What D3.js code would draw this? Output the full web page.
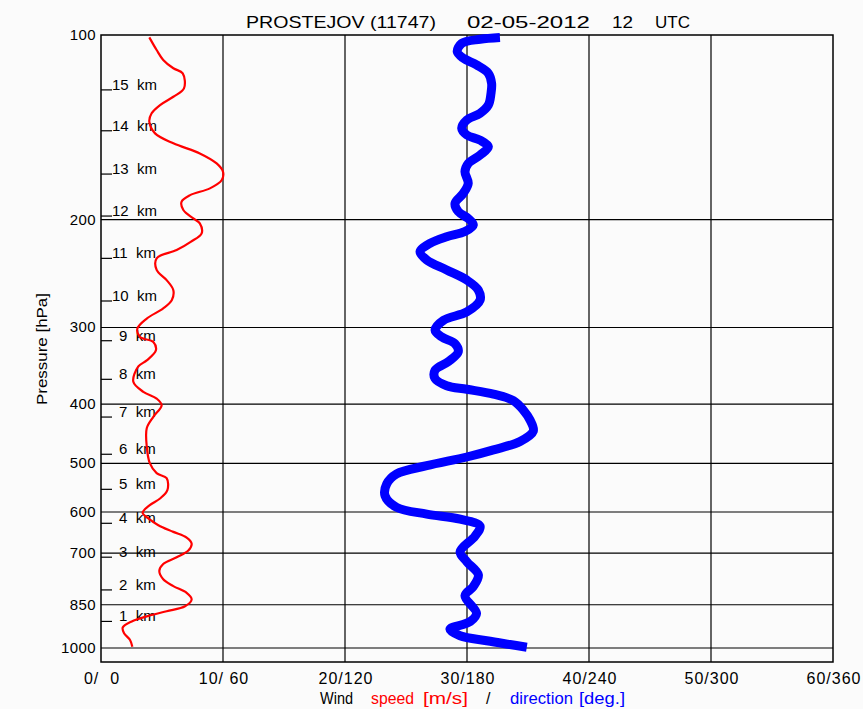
<!DOCTYPE html>
<html>
<head>
<meta charset="utf-8">
<script src="https://cdn.jsdelivr.net/npm/d3@7"></script>
<style>
    body { margin: 0; background: #fbfbfb; }
    svg { display: block; font-family: "Liberation Sans", Arial, sans-serif; }
    text { white-space: pre; }
</style>
</head>
<body>
<div class="container"></div>
<script>
// pressure levels (hPa) and readings for each curve
var speedPressure = [100.9, 105.8, 109.8, 113.3, 115.5, 122.2, 126.1, 130.1, 134.2, 138.5, 144.7, 150.2, 156.0, 162.0, 167.1, 172.4, 177.9, 182.5, 187.1, 193.0, 199.2, 202.9, 210.6, 217.5, 224.3, 231.4, 241.7, 251.1, 260.8, 270.9, 279.3, 290.1, 301.3, 310.9, 316.9, 326.9, 339.5, 347.3, 367.9, 382.0, 391.8, 401.6, 419.6, 438.1, 469, 499.5, 518.6, 528.5, 552.6, 570.3, 584.7, 601.8, 614.6, 630.4, 646.5, 660.6, 675.9, 693.3, 711.2, 729.4, 748.4, 772.5, 792.5, 813, 833.5, 854.7, 871.1, 887.9, 905.1, 925.9, 945.9, 970.5, 995.6];
var speed = [3.96, 4.56, 5.1, 5.93, 6.7, 6.8, 5.93, 4.84, 4.15, 3.96, 4.43, 5.93, 8.1, 9.48, 10.0, 9.9, 8.93, 7.3, 6.6, 6.75, 7.57, 8.1, 8.25, 7.35, 6.2, 4.56, 4.56, 5.38, 5.93, 5.8, 5.1, 3.75, 2.98, 3.2, 4.29, 4.5, 3.75, 3.06, 2.65, 3.47, 4.56, 4.97, 4.29, 3.75, 3.75, 4.0, 4.56, 5.38, 5.44, 4.84, 4.0, 3.41, 3.88, 4.7, 5.93, 7.02, 7.43, 7.16, 6.2, 5.1, 4.78, 5.1, 5.93, 7.02, 7.43, 6.89, 5.38, 3.75, 2.52, 1.78, 1.89, 2.38, 2.57];

var dirPressure = [100.9, 101.6, 103.2, 106.5, 109.1, 111.9, 115.5, 119.9, 124.5, 130.1, 134.2, 137.6, 142, 145.6, 148.4, 152.1, 157, 162, 167.1, 174.6, 181.2, 188.2, 194.1, 199.2, 204.1, 209.2, 213.3, 218.7, 225.6, 232.8, 241.7, 251.1, 260.8, 270.9, 283.0, 292, 302.9, 310.9, 318.9, 328.8, 340.8, 352.1, 363.6, 373.3, 378.4, 385.4, 394.8, 409.1, 424.7, 442.8, 460.4, 475.1, 488, 504.2, 520.1, 540.3, 564.4, 589.6, 604.7, 616.5, 632.5, 657.1, 697, 723, 760, 794, 822, 878, 906, 932, 955, 973, 987, 997];
var direction = [196.2, 186.4, 177.4, 175.2, 178.2, 184.7, 190.5, 192.1, 191.8, 190.5, 186.4, 179.9, 177.4, 179.9, 186.4, 190.5, 186.4, 180.6, 179, 180.6, 178.2, 174.1, 175.7, 180.6, 183.1, 179, 170, 161.8, 156.9, 160.2, 170, 179.9, 185.6, 186.4, 179.9, 168.5, 164.3, 167.6, 174.1, 175.7, 170.9, 164.3, 164.3, 170, 179.9, 193, 202.8, 207.7, 211, 212.6, 206.1, 193, 179.9, 160.2, 145.4, 140.5, 139.7, 145.4, 160.2, 176.6, 186.4, 183.9, 176.6, 179.9, 185.6, 183.1, 179, 184.7, 181.5, 171.6, 176.6, 189.7, 201.1, 209.4];

var pressureTicks = [100, 200, 300, 400, 500, 600, 700, 850, 1000];
var kmLevels = [1, 2, 3, 4, 5, 6, 7, 8, 9, 10, 11, 12, 13, 14, 15];
var kmPressure = [905, 804, 711, 626, 551, 483, 420, 364.5, 315.3, 271.6, 231.4, 197.4, 168.6, 143.3, 122.9];
var speedTicks = [0, 10, 20, 30, 40, 50, 60];
var dirTicks = [0, 60, 120, 180, 240, 300, 360];
var titleParts = ["PROSTEJOV (11747)", "02-05-2012", "12", "UTC"];
var legendParts = ["Wind", "speed", "[m/s]", "/", "direction", "[deg.]"];

var chart = {
    width: 863,
    height: 709,
    left: 101,
    right: 833,
    top: 35,
    bottom: 662
};

var x = d3.scaleLinear().domain([0, 60]).range([chart.left, chart.right]);
var xDir = d3.scaleLinear().domain([0, 360]).range([chart.left, chart.right]);
var y = d3.scaleLog().domain([100, 1000]).range([35, 648]);

var svg = d3.select(".container").append("svg")
    .attr("width", chart.width)
    .attr("height", chart.height);

svg.append("rect")
    .attr("width", chart.width).attr("height", chart.height)
    .attr("fill", "#fbfbfb");

// grid
svg.append("g").selectAll("line").data(speedTicks.slice(1, -1)).join("line")
    .attr("x1", (d) => x(d)).attr("x2", (d) => x(d))
    .attr("y1", chart.top).attr("y2", chart.bottom)
    .attr("stroke", "#000").attr("stroke-width", 1.2);

svg.append("g").selectAll("line").data(pressureTicks.slice(1)).join("line")
    .attr("x1", chart.left).attr("x2", chart.right)
    .attr("y1", (d) => y(d)).attr("y2", (d) => y(d))
    .attr("stroke", "#000").attr("stroke-width", 1.2);

svg.append("rect")
    .attr("x", chart.left).attr("y", chart.top)
    .attr("width", chart.right - chart.left).attr("height", chart.bottom - chart.top)
    .attr("fill", "none").attr("stroke", "#000").attr("stroke-width", 1.5);

// pressure labels
svg.append("g").selectAll("text").data(pressureTicks).join("text")
    .attr("x", 96).attr("y", (d) => y(d) + 5)
    .attr("text-anchor", "end")
    .attr("font-size", 15)
    .attr("letter-spacing", 0.4)
    .text((d) => d);

svg.append("text")
    .attr("transform", "translate(47,349) rotate(-90)")
    .attr("text-anchor", "middle")
    .attr("font-size", 15)
    .attr("textLength", 112)
    .attr("lengthAdjust", "spacingAndGlyphs")
    .text("Pressure [hPa]");

// height marks
var km = svg.append("g");
km.selectAll("line").data(kmPressure).join("line")
    .attr("x1", chart.left).attr("x2", chart.left + 11)
    .attr("y1", (d) => y(d)).attr("y2", (d) => y(d))
    .attr("stroke", "#000").attr("stroke-width", 1.2);
km.selectAll("text").data(kmLevels).join("text")
    .attr("x", (d) => d >= 10 ? chart.left + 11 : chart.left + 18)
    .attr("y", (d, i) => y(kmPressure[i]))
    .attr("font-size", 15)
    .text((d) => d + "  km");

// curves
var speedLine = d3.line()
    .x((d) => x(d[0]))
    .y((d) => y(d[1]))
    .curve(d3.curveCatmullRom);

svg.append("path")
    .attr("d", speedLine(d3.zip(speed, speedPressure)))
    .attr("fill", "none").attr("stroke", "#ff0000").attr("stroke-width", 2.2);

var dirLine = d3.line()
    .x((d) => xDir(d[0]))
    .y((d) => y(d[1]))
    .curve(d3.curveCatmullRom);

svg.append("path")
    .attr("d", dirLine(d3.zip(direction, dirPressure)))
    .attr("fill", "none").attr("stroke", "#0000ff").attr("stroke-width", 9)
    .attr("stroke-linejoin", "round").attr("stroke-linecap", "butt");

// bottom labels
svg.append("g").selectAll("text").data(speedTicks).join("text")
    .attr("x", (d) => x(d) + 1)
    .attr("y", 684)
    .attr("text-anchor", "middle")
    .attr("font-size", 16)
    .attr("letter-spacing", 1)
    .text((d, i) => {
        var s = String(dirTicks[i]);
        return d + "/" + " ".repeat(3 - s.length) + s;
    });

var legendX = [320, 371, 423, 486, 510, 579];
var legendW = [33, 43, 45, null, 63, 46];
var legendColor = ["#000", "#ff0000", "#ff0000", "#000", "#0000ff", "#0000ff"];
svg.append("g").selectAll("text").data(legendParts).join("text")
    .attr("x", (d, i) => legendX[i])
    .attr("y", 704)
    .attr("font-size", 16)
    .attr("fill", (d, i) => legendColor[i])
    .attr("textLength", (d, i) => legendW[i])
    .attr("lengthAdjust", (d, i) => legendW[i] ? "spacingAndGlyphs" : null)
    .text((d) => d);

// title
var titleX = [246, 467, 612, 655];
var titleW = [190, 123, 21, 35];
svg.append("g").selectAll("text").data(titleParts).join("text")
    .attr("x", (d, i) => titleX[i])
    .attr("y", 28)
    .attr("font-size", 17)
    .attr("textLength", (d, i) => titleW[i])
    .attr("lengthAdjust", "spacingAndGlyphs")
    .text((d) => d);
</script>
</body>
</html>
